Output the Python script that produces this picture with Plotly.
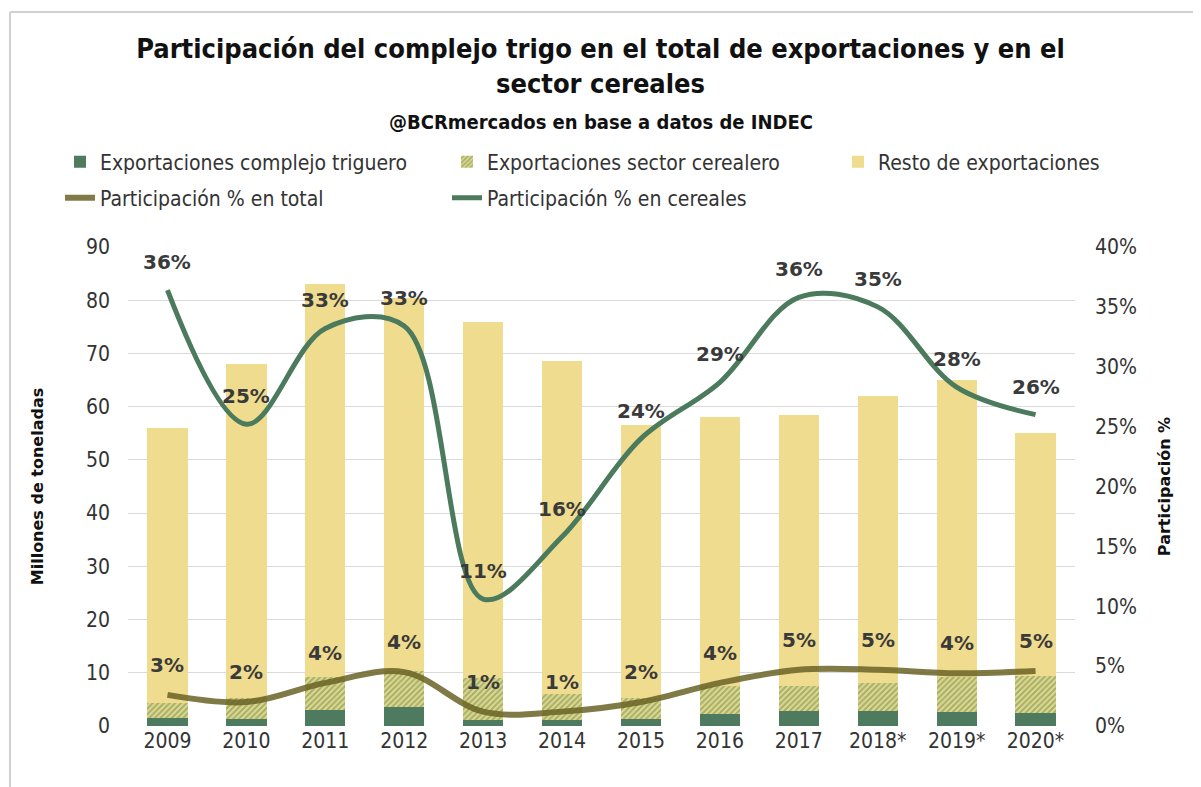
import plotly.graph_objects as go

years = ["2009", "2010", "2011", "2012", "2013", "2014", "2015", "2016", "2017", "2018*", "2019*", "2020*"]
# Millions of tonnes
total_exports = [56, 68, 83, 80.5, 76, 68.5, 56.5, 58, 58.5, 62, 65, 55]
cereal_exports = [4.3, 5.2, 9.2, 10.4, 9.1, 6.1, 5.2, 7.5, 7.5, 8.1, 9.3, 9.4]
wheat_exports = [1.5, 1.3, 3.1, 3.5, 1.1, 1.1, 1.4, 2.2, 2.8, 2.9, 2.7, 2.5]
# Participation shares
share_total = [0.026, 0.020, 0.036, 0.045, 0.012, 0.012, 0.020, 0.036, 0.047, 0.047, 0.044, 0.046]
share_cereal = [0.364, 0.252, 0.332, 0.334, 0.106, 0.158, 0.240, 0.287, 0.358, 0.350, 0.283, 0.260]

cereal_rest = [c - w for c, w in zip(cereal_exports, wheat_exports)]
other_rest = [t - c for t, c in zip(total_exports, cereal_exports)]

DARK_GREEN = "#4E7A5F"
YELLOW = "#EFDC8E"
OLIVE = "#6A6326"
LINE_GREEN = "#4B7A5D"
NARROW = "Liberation Sans Narrow, DejaVu Sans Condensed, sans-serif"
COND = "DejaVu Sans Condensed, DejaVu Sans, sans-serif"
LABEL_FONT = dict(family="DejaVu Sans, sans-serif", size=20, color="#3A3A3A", weight="bold")

W, H = 1193, 779          # page is offset by 8px body margin
ML, MR, MT, MB = 120, 126, 239, 61
PH = H - MT - MB          # plot height
PW = W - ML - MR          # plot width
PB = H - MB               # plot bottom in figure px


def paper_y(fig_y):
    return (PB - fig_y) / PH


def paper_x(fig_x):
    return (fig_x - ML) / PW


fig = go.Figure()
fig.add_trace(go.Bar(x=years, y=wheat_exports, name="Exportaciones complejo triguero", legend="legend",
                     showlegend=True, marker=dict(color=DARK_GREEN, line=dict(width=0))))
fig.add_trace(go.Bar(x=years, y=cereal_rest, name="Exportaciones sector cerealero", legend="legend2",
                     showlegend=True,
                     marker=dict(color=YELLOW, line=dict(width=0),
                                 pattern=dict(shape="/", fgcolor="#5A8A55", bgcolor="#E5D78A",
                                              size=4, solidity=0.5))))
fig.add_trace(go.Bar(x=years, y=other_rest, name="Resto de exportaciones", legend="legend3",
                     showlegend=True, marker=dict(color=YELLOW, line=dict(width=0))))
fig.add_trace(go.Scatter(x=years, y=share_total, name="Participación % en total", yaxis="y2", legend="legend4",
                         showlegend=True,
                         mode="lines", line=dict(color=OLIVE, width=6, shape="spline", smoothing=1.0),
                         opacity=0.85))
fig.add_trace(go.Scatter(x=years, y=share_cereal, name="Participación % en cereales", yaxis="y2", legend="legend5",
                         showlegend=True,
                         mode="lines", line=dict(color=LINE_GREEN, width=5, shape="spline", smoothing=1.0)))

annotations = []
for i, v in enumerate(share_cereal):
    annotations.append(dict(x=i, y=v, xref="x", yref="y2", text=f"{round(v*100):.0f}%",
                            showarrow=False, yshift=28, font=LABEL_FONT))
for i, v in enumerate(share_total):
    annotations.append(dict(x=i, y=v, xref="x", yref="y2", text=f"{round(v*100):.0f}%",
                            showarrow=False, yshift=30, font=LABEL_FONT))
annotations.append(dict(text="<b>@BCRmercados en base a datos de INDEC</b>", x=paper_x(592.5), xref="paper",
                        y=paper_y(114), yref="paper", yanchor="middle", showarrow=False,
                        font=dict(family=NARROW, size=20, color="#111111")))

legend_common = dict(orientation="h", xref="container", yref="container", yanchor="middle", xanchor="left",
                     font=dict(family=COND, size=21, color="#333333"), bgcolor="rgba(0,0,0,0)")
row1 = 1 - 154 / H
row2 = 1 - 190 / H
col = [(100 - 8 - 40) / W, (487 - 8 - 40) / W, (878 - 8 - 40) / W]

fig.update_layout(
    width=W, height=H,
    showlegend=True,
    paper_bgcolor="white", plot_bgcolor="white",
    margin=dict(l=ML, r=MR, t=MT, b=MB, autoexpand=False),
    barmode="stack", bargap=0.49,
    font=dict(family=COND, color="#333333"),
    title=dict(text="<b>Participación del complejo trigo en el total de exportaciones y en el<br>sector cereales</b>",
               x=paper_x(592.5) * PW / W + ML / W, xanchor="center", xref="container",
               y=1 - 50 / H, yanchor="top", yref="container",
               font=dict(family=NARROW, size=27, color="#111111")),
    legend=dict(x=col[0], y=row1, **legend_common),
    legend2=dict(x=col[1], y=row1, **legend_common),
    legend3=dict(x=col[2], y=row1, **legend_common),
    legend4=dict(x=col[0], y=row2, **legend_common),
    legend5=dict(x=col[1], y=row2, **legend_common),
    xaxis=dict(type="category", range=[-0.5, 11.5], showgrid=False, zeroline=False,
               tickfont=dict(family=COND, size=21, color="#333333"), ticks="", showline=False),
    yaxis=dict(range=[0, 90], dtick=10, gridcolor="#DADADA", gridwidth=1, zeroline=False, automargin=False,
               tickfont=dict(family=COND, size=21, color="#333333"), ticklabelstandoff=17,
               title=dict(text="<b>Millones de toneladas</b>", font=dict(family="DejaVu Sans, sans-serif", size=16, color="#111111"), standoff=38)),
    yaxis2=dict(range=[0, 0.40], dtick=0.05, tickformat=".0%", overlaying="y", side="right", automargin=False,
                showgrid=False, zeroline=False,
                tickfont=dict(family=COND, size=21, color="#333333"), ticklabelstandoff=19,
                title=dict(text="<b>Participación %</b>", font=dict(family="DejaVu Sans, sans-serif", size=16, color="#111111"), standoff=22)),
    annotations=annotations,
)

fig.add_shape(type="line", xref="paper", yref="paper", x0=paper_x(2), x1=paper_x(2), y0=paper_y(H + 10), y1=paper_y(4),
              line=dict(color="#D0D0D0", width=2))
fig.add_shape(type="line", xref="paper", yref="paper", x0=paper_x(2), x1=paper_x(W + 10), y0=paper_y(4), y1=paper_y(4),
              line=dict(color="#D0D0D0", width=2))

fig.write_html("out.html")
